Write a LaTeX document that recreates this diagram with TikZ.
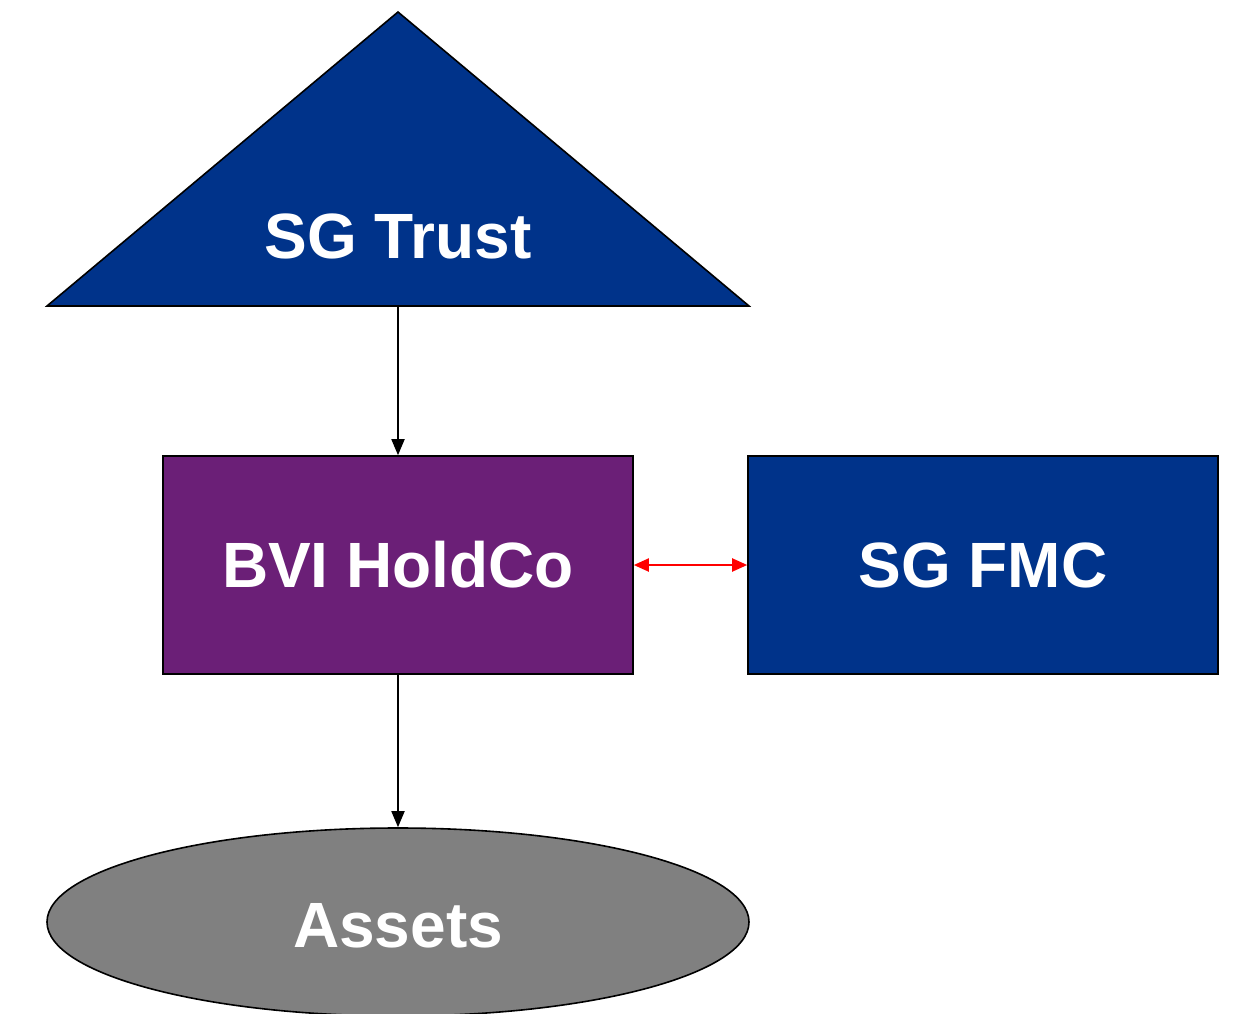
\documentclass[tikz,border=0pt]{standalone}
\usepackage{fontspec}
\setmainfont{Liberation Sans}
\usetikzlibrary{arrows.meta,shapes.geometric}
\definecolor{trustblue}{HTML}{00338A}
\definecolor{holdpurple}{HTML}{6B1F77}
\definecolor{assetgray}{HTML}{808080}
\definecolor{linkred}{HTML}{FF0000}
\tikzset{
  label font/.style={font=\bfseries\fontsize{64}{72}\selectfont, text=white},
  entity/.style={draw=black, line width=1.6pt, label font},
  boxent/.style={entity, rectangle, minimum width=470pt, minimum height=218pt, inner sep=0pt},
  own/.style={draw=black, line width=1.8pt, -{Triangle[length=16pt,width=13pt]}},
  link/.style={draw=linkred, line width=2pt, {Triangle[length=15pt,width=13pt]}-{Triangle[length=15pt,width=13pt]}},
}
\begin{document}
\begin{tikzpicture}[x=1pt,y=-1pt]
  \useasboundingbox (0,0) rectangle (1239,1014);
  % trust triangle
  \coordinate (apex) at (398,12);
  \coordinate (baseL) at (47,306);
  \coordinate (baseR) at (749,306);
  \coordinate (trustbase) at (398,306);
  \filldraw[fill=trustblue, draw=black, line width=1.6pt, line join=miter] (apex) -- (baseR) -- (baseL) -- cycle;
  \node[label font] (trust) at (398,236) {SG Trust};
  % companies
  \node[boxent, fill=holdpurple] (hold) at (398,565) {BVI HoldCo};
  \node[boxent, fill=trustblue] (fmc) at (983,565) {SG FMC};
  % assets
  \node[entity, ellipse, fill=assetgray, minimum width=702pt, minimum height=188pt, inner sep=0pt] (assets) at (398,922) {};
  \node[label font] (assetstext) at (398,926) {Assets};
  % connectors
  \draw[own] (trustbase) -- (hold.north);
  \draw[own] (hold.south) -- (assets.north);
  \draw[link] (hold.east) -- (fmc.west);
\end{tikzpicture}
\end{document}
